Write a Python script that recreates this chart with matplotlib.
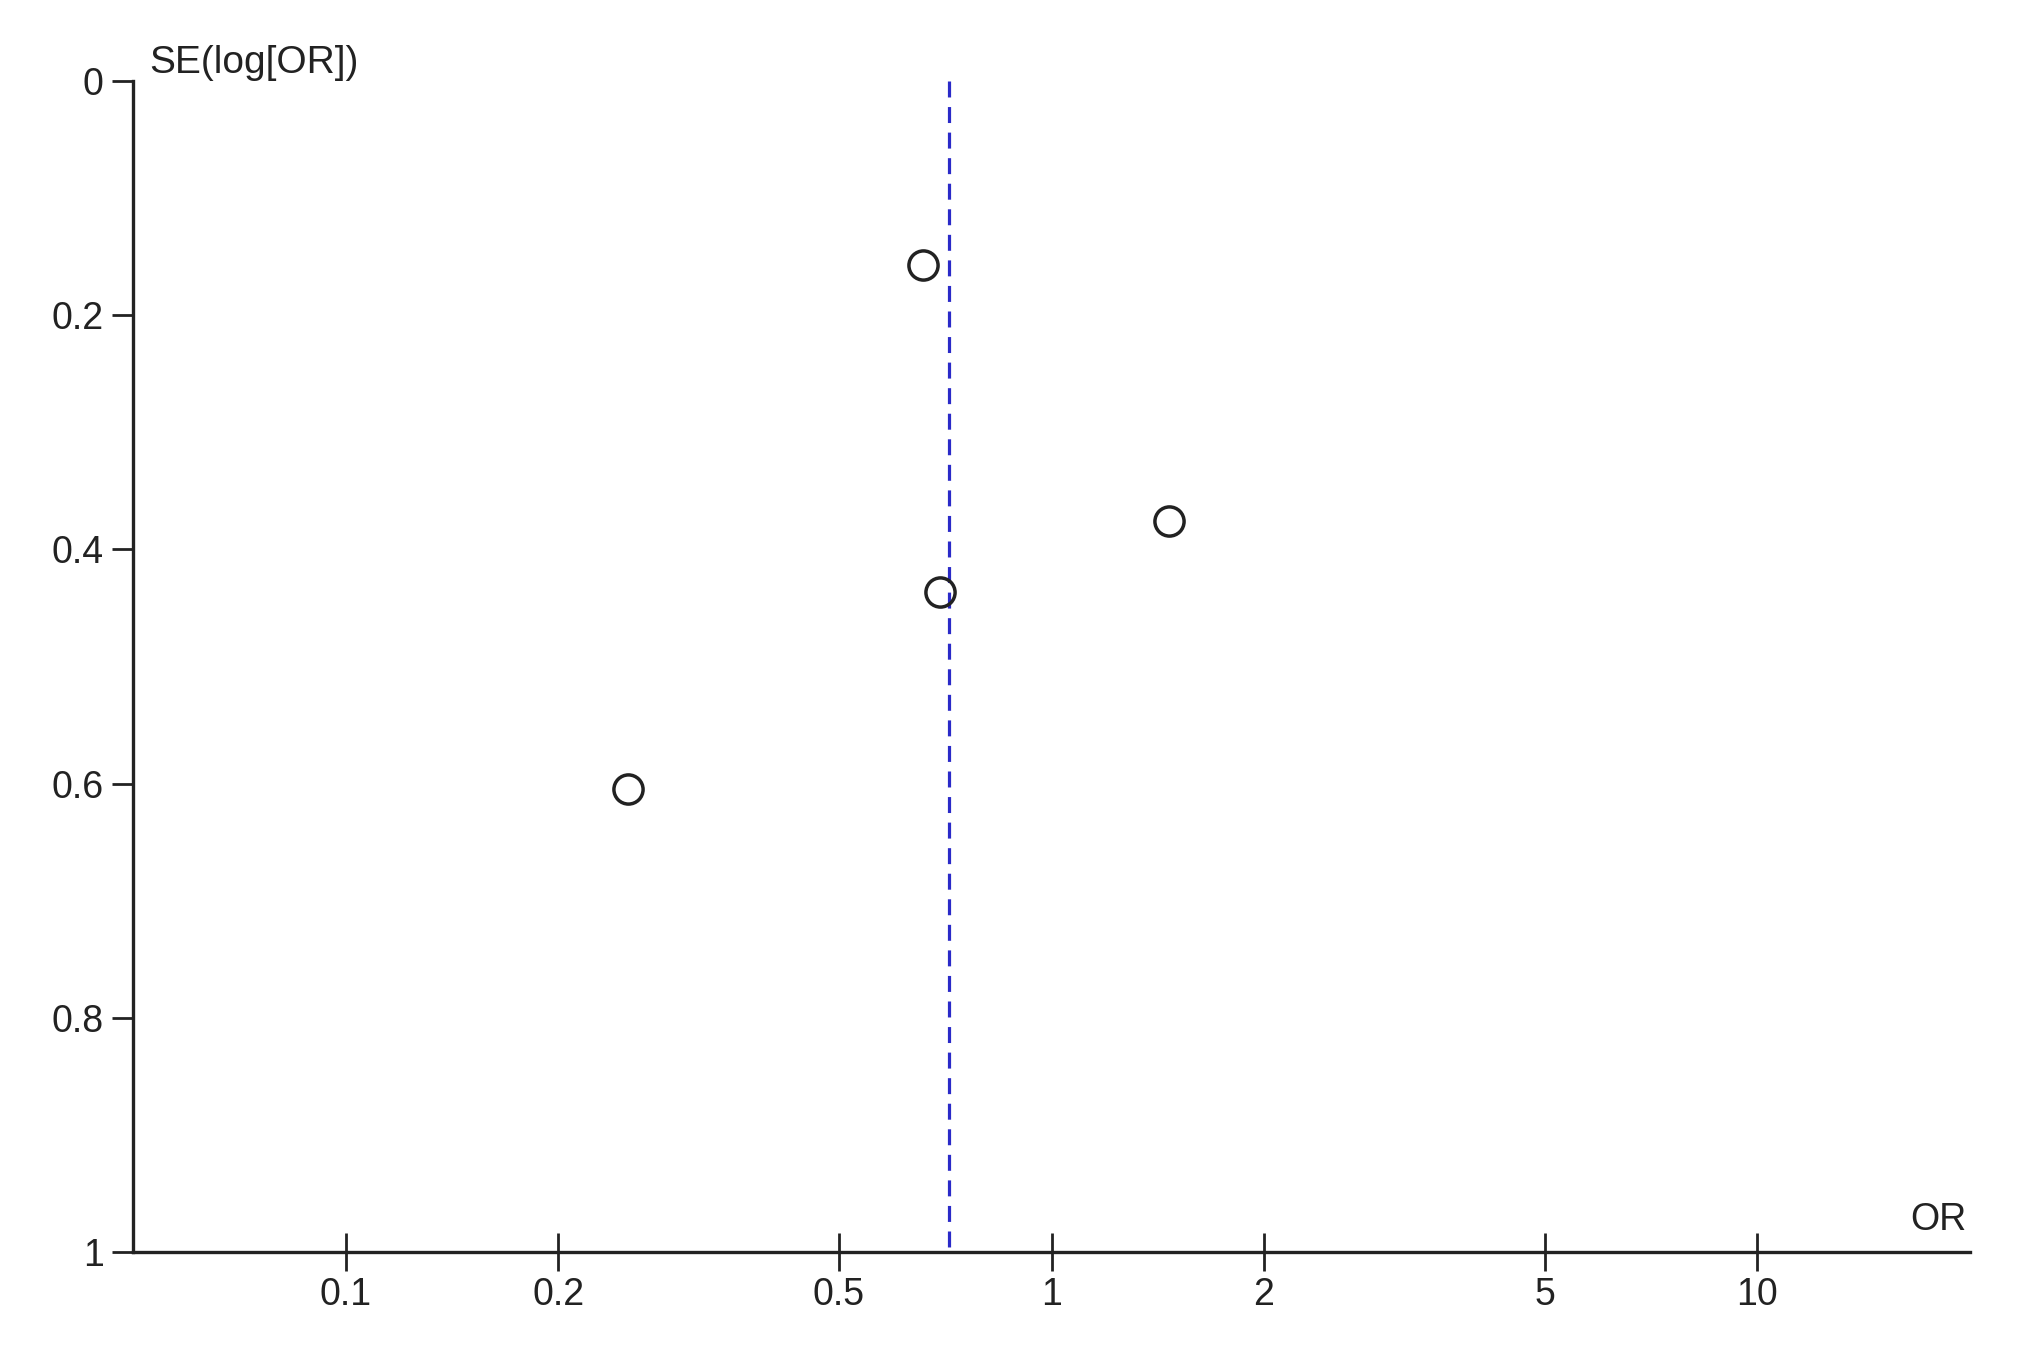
import matplotlib
matplotlib.use("Agg")
import matplotlib.pyplot as plt
import numpy as np

# Data
odds_ratios = [0.657, 1.468, 0.695, 0.251]
se_log_or = [0.157, 0.376, 0.436, 0.605]
pooled_or = 0.715

x_ticks = [0.1, 0.2, 0.5, 1, 2, 5, 10]
x_tick_labels = ["0.1", "0.2", "0.5", "1", "2", "5", "10"]
y_ticks = [0, 0.2, 0.4, 0.6, 0.8, 1]
y_tick_labels = ["0", "0.2", "0.4", "0.6", "0.8", "1"]

plt.rcParams['font.family'] = ['Liberation Sans', 'DejaVu Sans']

fig = plt.figure(figsize=(20.28, 13.72), dpi=100)
ax = fig.add_axes([0.0656, 0.0875, 0.9058, 0.8535])

ax.set_xscale('log')
ax.set_xlim(0.05, 20)
ax.set_ylim(1, 0)

ax.plot([pooled_or, pooled_or], [0, 1], color='#2a2ac8', linewidth=2.3,
        dashes=(5, 3), zorder=2)

ax.plot(odds_ratios, se_log_or, linestyle='none', marker='o', markersize=21,
        markerfacecolor='none', markeredgecolor='#222222', markeredgewidth=2.5,
        zorder=3)

for s in ['top', 'right']:
    ax.spines[s].set_visible(False)
for s in ['left', 'bottom']:
    ax.spines[s].set_linewidth(2.4)
    ax.spines[s].set_color('#222222')

ax.set_xticks(x_ticks)
ax.set_xticklabels(x_tick_labels)
ax.xaxis.set_minor_locator(matplotlib.ticker.NullLocator())
ax.set_yticks(y_ticks)
ax.set_yticklabels(y_tick_labels)

ax.tick_params(axis='x', direction='inout', length=28, width=2, colors='#222222',
               labelsize=27, pad=4)
ax.tick_params(axis='y', direction='out', length=15, width=2, colors='#222222',
               labelsize=27, pad=6)

ax.text(0.009, 1.0, "SE(log[OR])", transform=ax.transAxes, fontsize=28,
        ha='left', va='bottom', color='#222222')
ax.text(0.998, 0.012, "OR", transform=ax.transAxes, fontsize=27,
        ha='right', va='bottom', color='#222222')

fig.savefig("out.png", dpi=100, facecolor='white')
